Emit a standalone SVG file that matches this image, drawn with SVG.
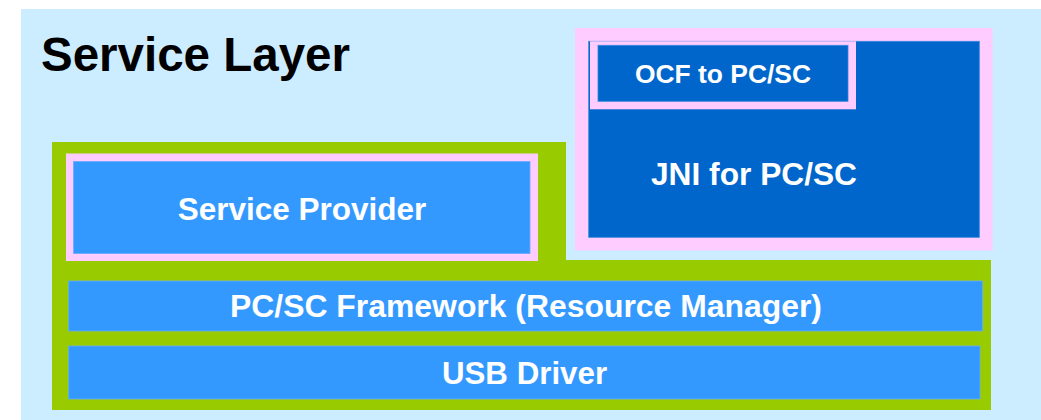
<svg xmlns="http://www.w3.org/2000/svg" width="1041" height="420" viewBox="0 0 1041 420">
<style>
text{font-family:"Liberation Sans",Arial,sans-serif;font-weight:bold}
.lbl{fill:#FFFFFF;text-anchor:middle}
.pink{fill:#FFCCFF}
.blue{fill:#3399FF;stroke:#66AAFF;stroke-width:0.8}
.dblue{fill:#0066CC;stroke:#3388DD;stroke-width:0.8}
</style>
<rect x="0" y="0" width="1041" height="420" fill="#FFFFFF"/>
<g id="service-layer">
<rect x="21" y="9" width="1020" height="411" fill="#CCECFF"/>
<text x="41" y="71" font-size="47.5" fill="#000000">Service Layer</text>
</g>
<g id="green-stack">
<path d="M52,142 H566 V260 H991 V410 H52 Z" fill="#99CC00"/>
</g>
<g id="service-provider">
<rect class="pink" x="66" y="153.5" width="472" height="107.5"/>
<rect class="blue" x="73.6" y="161.5" width="456.4" height="92"/>
<text class="lbl" x="302" y="219.5" font-size="31.5">Service Provider</text>
</g>
<g id="jni">
<rect class="pink" x="575" y="28" width="417.5" height="222.5"/>
<rect class="dblue" x="588.7" y="41.3" width="390.6" height="196"/>
<text x="651" y="185" font-size="31.7" fill="#FFFFFF">JNI for PC/SC</text>
</g>
<g id="ocf">
<rect class="pink" x="590" y="41.3" width="266" height="68"/>
<rect class="dblue" x="598" y="45.3" width="250" height="56"/>
<text class="lbl" x="723" y="82.8" font-size="26.4">OCF to PC/SC</text>
</g>
<g id="pcsc-framework">
<rect class="blue" x="68.7" y="281" width="913.8" height="50"/>
<text class="lbl" x="526" y="316.7" font-size="31.9">PC/SC Framework (Resource Manager)</text>
</g>
<g id="usb-driver">
<rect class="blue" x="68.7" y="346" width="911.3" height="53"/>
<text class="lbl" x="524.5" y="384" font-size="31.3">USB Driver</text>
</g>
<g id="connectors"/>
</svg>
